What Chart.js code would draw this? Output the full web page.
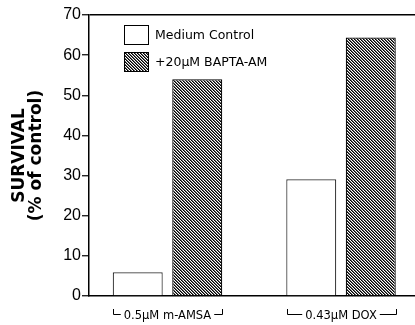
<!DOCTYPE html>
<html><head><meta charset="utf-8">
<script src="https://cdn.jsdelivr.net/npm/chart.js@4"></script>
<style>html,body{margin:0;padding:0;background:#fff}#wrap{width:415px;height:325px}</style>
</head><body><div id="wrap"><canvas id="c" width="415" height="325"></canvas></div>
<script>
const categories = ['0.5µM m-AMSA', '0.43µM DOX'];
const seriesNames = ['Medium Control', '+20µM BAPTA-AM'];
const controlValues = [5.9, 29.1];
const baptaValues = [54.0, 64.4];
const yTicks = [0, 10, 20, 30, 40, 50, 60, 70];
const yTitle = ['SURVIVAL', '(% of control)'];

const canvas = document.getElementById('c');
const mainCtx = canvas.getContext('2d');

function makeHatch() {
  const c = document.createElement('canvas');
  c.width = 6; c.height = 6;
  const g = c.getContext('2d');
  g.fillStyle = '#fff'; g.fillRect(0, 0, 6, 6);
  for (let y = 0; y < 6; y++) for (let x = 0; x < 6; x++) {
    const m = ((x - y) % 3 + 3) % 3;
    if (m === 0) { g.fillStyle = '#000'; g.fillRect(x, y, 1, 1); }
    else if (m === 1) { g.fillStyle = '#666'; g.fillRect(x, y, 1, 1); }
  }
  return mainCtx.createPattern(c, 'repeat');
}
const hatch = makeHatch();
const labelFont = '11.5px "DejaVu Sans"';

const legendPlugin = {
  id: 'figLegend',
  afterDraw(chart) {
    const { ctx, chartArea } = chart;
    ctx.save();
    const x0 = chartArea.left + 35;
    const y0 = chartArea.top + 10;
    chart.data.datasets.forEach((ds, i) => {
      const y = y0 + i * 27;
      ctx.fillStyle = ds.backgroundColor;
      ctx.fillRect(x0, y, 25, 20);
      ctx.lineWidth = 1;
      ctx.strokeStyle = '#000';
      ctx.strokeRect(x0 + 0.5, y + 0.5, 24, 19);
      ctx.fillStyle = '#000';
      ctx.font = '12.5px "DejaVu Sans"';
      ctx.textBaseline = 'middle';
      ctx.textAlign = 'left';
      ctx.fillText(ds.label, x0 + 31, y + 11);
    });
    ctx.restore();
  }
};

const bracketPlugin = {
  id: 'brackets',
  afterDraw(chart) {
    const { ctx, chartArea } = chart;
    const xs = chart.scales.x;
    ctx.save();
    ctx.font = labelFont;
    ctx.strokeStyle = '#000';
    ctx.lineWidth = 1;
    categories.forEach((lab, i) => {
      const cx = xs.getPixelForValue(i);
      const w = ctx.measureText(lab).width;
      const L = Math.round(cx - 54) + 0.5, R = Math.round(cx + 55) + 0.5;
      const yb = Math.round(chartArea.bottom + 18) + 0.5, yt = chartArea.bottom + 13;
      const tl = cx - w / 2 - 3, tr = cx + w / 2 + 3;
      ctx.beginPath();
      ctx.moveTo(L, yt); ctx.lineTo(L, yb); ctx.lineTo(tl, yb);
      ctx.moveTo(tr, yb); ctx.lineTo(R, yb); ctx.lineTo(R, yt);
      ctx.stroke();
    });
    ctx.restore();
  }
};

new Chart(canvas, {
  type: 'bar',
  data: {
    datasets: [
      { label: seriesNames[0], data: controlValues.map((v, i) => ({ x: i, y: v })),
        backgroundColor: '#fff', borderColor: '#333', borderWidth: 1.2,
        categoryPercentage: 0.686, barPercentage: 0.84 },
      { label: seriesNames[1], data: baptaValues.map((v, i) => ({ x: i, y: v })),
        backgroundColor: hatch, borderColor: '#000', borderWidth: 1.2,
        categoryPercentage: 0.686, barPercentage: 0.84 }
    ]
  },
  options: {
    responsive: false,
    animation: false,
    devicePixelRatio: 1,
    layout: { padding: { left: 0, top: 15, right: 0, bottom: 0 } },
    plugins: { legend: { display: false }, tooltip: { enabled: false } },
    scales: {
      x: {
        type: 'linear', offset: false, min: -0.4524, max: 1.4265,
        afterBuildTicks: s => { s.ticks = categories.map((_, i) => ({ value: i })); },
        afterFit: s => { s.height = 29; },
        grid: { display: false, drawTicks: false },
        border: { display: true, color: '#000', width: 1.5 },
        ticks: { autoSkip: false, maxRotation: 0, padding: 13, color: '#000',
          font: { family: 'DejaVu Sans', size: 11.5 },
          callback: v => categories[v] }
      },
      y: {
        min: 0, max: 70,
        afterBuildTicks: s => { s.ticks = yTicks.map(v => ({ value: v })); },
        afterFit: s => { s.width = 89; },
        grid: { drawOnChartArea: true,
          color: c => (c.tick && c.tick.value === 70) ? '#000' : 'rgba(0,0,0,0)',
          lineWidth: 1.5, tickColor: '#000', tickLength: 7, tickWidth: 1.2 },
        border: { display: true, color: '#000', width: 1.5 },
        ticks: { padding: 1, color: '#000', font: { family: 'Liberation Sans', size: 16 } },
        title: { display: true, text: yTitle, color: '#000',
          font: { family: 'DejaVu Sans', size: 17, weight: 'bold', lineHeight: 0.95 },
          padding: { top: 12, bottom: 0 } }
      }
    }
  },
  plugins: [legendPlugin, bracketPlugin]
});
</script></body></html>
